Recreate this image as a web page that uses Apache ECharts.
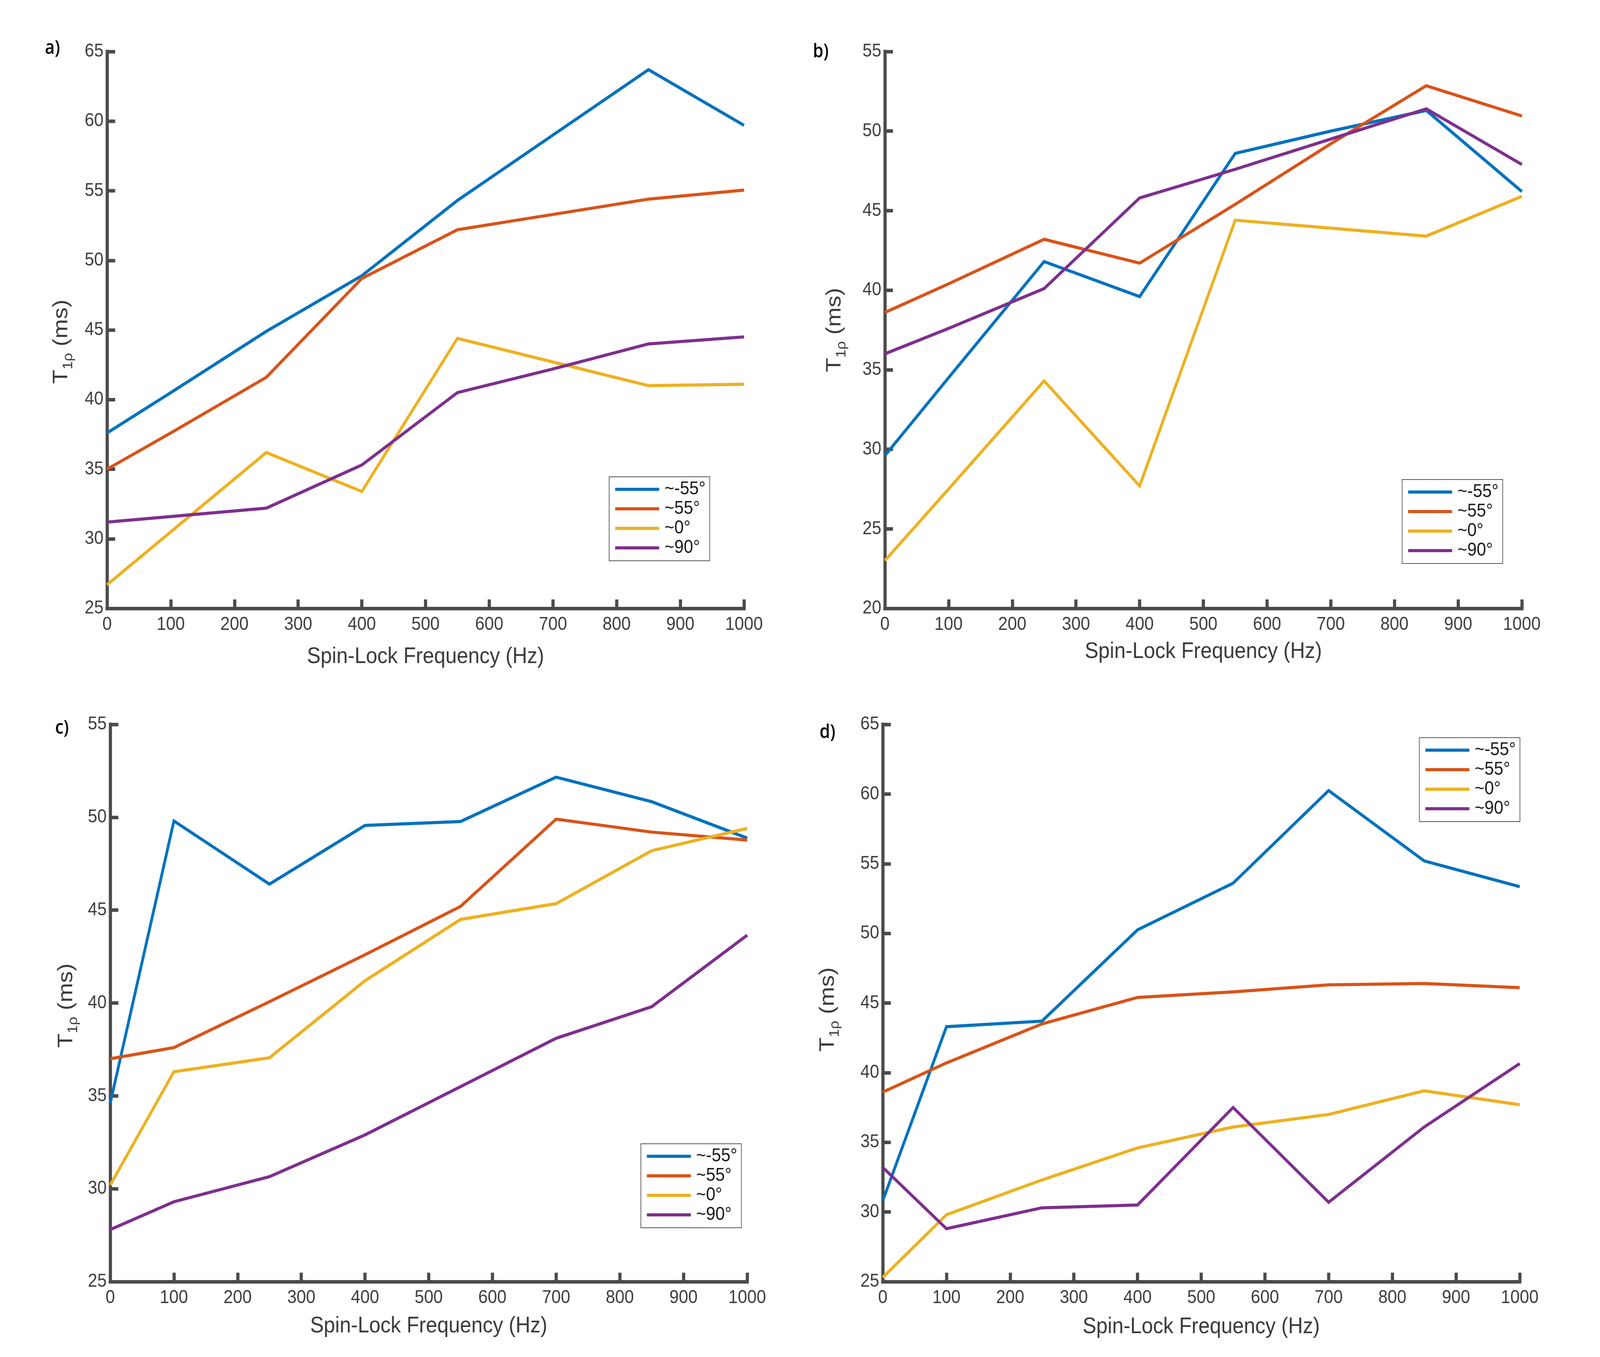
<!DOCTYPE html>
<html>
<head>
<meta charset="utf-8">
<script src="https://cdn.jsdelivr.net/npm/echarts@6/dist/echarts.min.js"></script>
<style>
html,body{margin:0;padding:0;background:#fff;overflow:hidden;}
#chart{width:4544px;height:3475px;transform-origin:0 0;}
</style>
</head>
<body>
<div id="chart"></div>
<script>
// ---- data ----
const freq = [0, 100, 250, 400, 550, 700, 850, 1000];
const seriesNames = ['~-55°', '~55°', '~0°', '~90°'];
const xTicks = { min: 0, max: 1000, interval: 100 };

const a_m55 = [37.6, 40.5, 44.9, 48.9, 54.3, 59.0, 63.7, 59.7];
const a_p55 = [35.0, 37.6, 41.6, 48.7, 52.2, 53.3, 54.4, 55.05];
const a_d0  = [26.7, 30.5, 36.2, 33.4, 44.4, 42.7, 41.0, 41.1];
const a_d90 = [31.2, 31.6, 32.2, 35.3, 40.5, 42.2, 44.0, 44.5];

const b_m55 = [29.6, 34.5, 41.8, 39.6, 48.6, 50.0, 51.3, 46.2];
const b_p55 = [38.6, 40.4, 43.2, 41.7, 45.4, 49.2, 52.85, 50.95];
const b_d0  = [23.0, 27.5, 34.3, 27.7, 44.4, 43.9, 43.4, 45.9];
const b_d90 = [36.0, 37.6, 40.1, 45.8, 47.6, 49.5, 51.4, 47.9];

const c_m55 = [34.6, 49.8, 46.4, 49.56, 49.77, 52.16, 50.84, 48.88];
const c_p55 = [37.0, 37.6, 40.07, 42.6, 45.2, 49.9, 49.2, 48.77];
const c_d0  = [30.2, 36.3, 37.05, 41.2, 44.5, 45.35, 48.2, 49.4];
const c_d90 = [27.8, 29.3, 30.65, 32.9, 35.5, 38.1, 39.8, 43.65];

const d_m55 = [30.8, 43.3, 43.7, 50.25, 53.6, 60.25, 55.2, 53.35];
const d_p55 = [38.6, 40.7, 43.5, 45.4, 45.8, 46.3, 46.4, 46.1];
const d_d0  = [25.3, 29.8, 32.3, 34.6, 36.1, 37.0, 38.7, 37.7];
const d_d90 = [33.2, 28.8, 30.3, 30.5, 37.5, 30.7, 36.1, 40.65];

const yRanges = [
  { min: 25, max: 65, interval: 5 },
  { min: 20, max: 55, interval: 5 },
  { min: 25, max: 55, interval: 5 },
  { min: 25, max: 65, interval: 5 }
];
const panels = [
  [a_m55, a_p55, a_d0, a_d90],
  [b_m55, b_p55, b_d0, b_d90],
  [c_m55, c_p55, c_d0, c_d90],
  [d_m55, d_p55, d_d0, d_d90]
];
const panelLabels = ['a)', 'b)', 'c)', 'd)'];
const xTitle = 'Spin-Lock Frequency (Hz)';

// ---- styles / layout ----
const W = 4544, H = 3475;
const colors = ['#0072BD', '#D95319', '#EDB120', '#7E2F8E'];
const FONT = '"Liberation Sans", Arial, Helvetica, sans-serif';
const axisColor = '#4b4b4b';
const labelColor = '#3d3d3d';

const grids = [
  { left: 304, top: 132, right: 2431, bottom: 1917 },
  { left: 2513, top: 132, right: 222, bottom: 1917 },
  { left: 313, top: 1855, right: 2422, bottom: 193 },
  { left: 2507, top: 1855, right: 228, bottom: 193 }
];
const xNameGaps = [95, 82, 85, 87];
const legendPos = [
  { left: 1730, top: 1221 },
  { left: 3982, top: 1228 },
  { left: 1820, top: 2929 },
  { left: 4031, top: 1889 }
];
const yTitlePos = [[184, 875], [2380, 845], [198, 2575], [2361, 2585]];
const panelLabelPos = [[149, 124], [2331, 133], [176, 1865], [2350, 1876]];

// fit the 4544x3475 design to the actual viewport
const el = document.getElementById('chart');
const sx = window.innerWidth / W, sy = window.innerHeight / H;
el.style.transform = 'scale(' + sx + ',' + sy + ')';

const chart = echarts.init(el, null, { devicePixelRatio: 1 });

const xAxes = grids.map((g, i) => ({
  gridIndex: i, type: 'value', min: xTicks.min, max: xTicks.max, interval: xTicks.interval,
  name: xTitle, nameLocation: 'middle', nameGap: xNameGaps[i],
  nameTextStyle: { fontSize: 58, color: '#3a3a3a', fontFamily: FONT },
  axisLine: { show: true, onZero: false, lineStyle: { color: axisColor, width: 9, cap: 'square' } },
  axisTick: { show: true, inside: true, length: 23, lineStyle: { color: axisColor, width: 9 } },
  axisLabel: { fontSize: 48, color: labelColor, margin: 18, fontFamily: FONT, formatter: v => String(v) },
  splitLine: { show: false }
}));
const yAxes = grids.map((g, i) => ({
  gridIndex: i, type: 'value', min: yRanges[i].min, max: yRanges[i].max, interval: yRanges[i].interval,
  axisLine: { show: true, onZero: false, lineStyle: { color: axisColor, width: 9, cap: 'square' } },
  axisTick: { show: true, inside: true, length: 23, lineStyle: { color: axisColor, width: 9 } },
  axisLabel: { fontSize: 48, color: labelColor, margin: 10, fontFamily: FONT, formatter: v => String(v) },
  splitLine: { show: false }
}));

const series = [];
panels.forEach((vals, p) => {
  vals.forEach((arr, s) => {
    series.push({
      type: 'line', name: seriesNames[s], xAxisIndex: p, yAxisIndex: p,
      data: freq.map((f, k) => [f, arr[k]]),
      symbol: 'none', color: colors[s],
      lineStyle: { width: 8, color: colors[s], join: 'miter' },
      animation: false, silent: true
    });
  });
});

const legends = legendPos.map(pos => ({
  left: pos.left, top: pos.top, orient: 'vertical',
  data: seriesNames.map(n => ({ name: n, icon: 'rect' })),
  itemWidth: 125, itemHeight: 8, itemGap: 0,
  padding: [7, 12, 8, 17],
  borderColor: '#555', borderWidth: 2, backgroundColor: '#fff',
  selectedMode: false,
  textStyle: { fontSize: 48, color: '#1a1a1a', fontFamily: FONT, lineHeight: 38, padding: [0, 0, 12, 10] }
}));

const graphics = [];
panelLabelPos.forEach((p, i) => {
  graphics.push({
    type: 'text', x: p[0], y: p[1],
    style: { text: panelLabels[i], fill: '#000', font: '600 48px "Open Sans", sans-serif', align: 'center', verticalAlign: 'middle' }
  });
});
yTitlePos.forEach(p => {
  graphics.push({
    type: 'text', x: p[0], y: p[1], rotation: Math.PI / 2,
    style: {
      text: '{t|T}{s|1ρ}{t| (ms)}', align: 'center', verticalAlign: 'middle',
      rich: {
        t: { fontSize: 60, lineHeight: 60, fontFamily: FONT, fill: '#3a3a3a', padding: [0, 0, 10, 0], verticalAlign: 'bottom' },
        s: { fontSize: 38, lineHeight: 38, fontFamily: FONT, fill: '#3a3a3a', verticalAlign: 'bottom' }
      }
    }
  });
});

chart.setOption({
  animation: false,
  backgroundColor: '#fff',
  grid: grids,
  xAxis: xAxes,
  yAxis: yAxes,
  legend: legends,
  series: series,
  graphic: graphics
});
</script>
</body>
</html>
